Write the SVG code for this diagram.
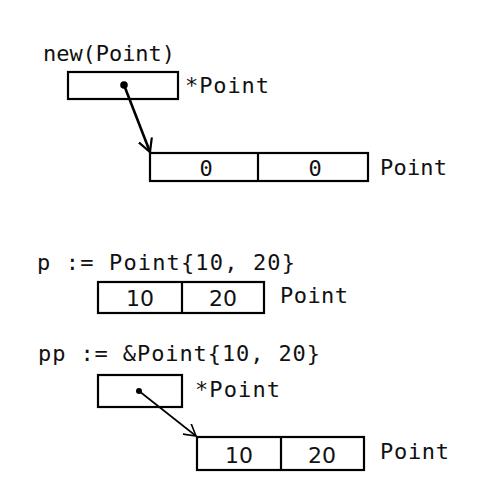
<svg xmlns="http://www.w3.org/2000/svg" width="490" height="497" viewBox="0 0 490 497">
<defs>
<marker id="ah" markerWidth="16" markerHeight="16" refX="13" refY="8" orient="auto" markerUnits="userSpaceOnUse">
<path d="M0,1 L13,8 L0,15" fill="none" stroke="#000" stroke-width="2.2"/>
</marker>
<marker id="ah2" markerWidth="14" markerHeight="14" refX="12" refY="7" orient="auto" markerUnits="userSpaceOnUse">
<path d="M0,0 L12,7 L0,14" fill="none" stroke="#000" stroke-width="1.6"/>
</marker>
</defs>
<style>
.t{font-family:"DejaVu Sans Mono","Liberation Mono",monospace;font-size:22px;fill:#111}
.n{font-family:"DejaVu Sans","Liberation Sans",sans-serif;font-size:22px;fill:#111;text-anchor:middle}
.b{fill:#fff;stroke:#000;stroke-width:2.2}
.c{stroke:#000;stroke-width:2.2;fill:none}
</style>
<rect width="490" height="497" fill="#fff"/>
<g id="new-label"><text class="t" x="43" y="61" textLength="132" lengthAdjust="spacing">new(Point)</text></g>
<g id="ptr1">
<rect class="b" x="68" y="72" width="110" height="27"/>
<text class="t" x="185" y="93" textLength="84" lengthAdjust="spacing">*Point</text>
</g>
<g id="point1">
<rect class="b" x="150" y="153" width="218" height="28"/>
<line class="c" x1="258" y1="153" x2="258" y2="181"/>
<text class="t" x="206" y="176" text-anchor="middle">0</text>
<text class="t" x="315" y="176" text-anchor="middle">0</text>
<text class="t" x="380" y="175" textLength="67" lengthAdjust="spacing">Point</text>
</g>
<g id="p-label"><text class="t" x="37" y="270" textLength="258" lengthAdjust="spacing">p := Point{10, 20}</text></g>
<g id="point2">
<rect class="b" x="98" y="282" width="166" height="31"/>
<line class="c" x1="182" y1="282" x2="182" y2="313"/>
<text class="n" x="140" y="306">10</text>
<text class="n" x="223" y="306">20</text>
<text class="t" x="280" y="303" textLength="68" lengthAdjust="spacing">Point</text>
</g>
<g id="pp-label"><text class="t" x="38" y="361" textLength="282" lengthAdjust="spacing">pp := &amp;Point{10, 20}</text></g>
<g id="ptr2">
<rect class="b" x="98" y="375" width="84" height="32"/>
<text class="t" x="195" y="397" textLength="85" lengthAdjust="spacing">*Point</text>
</g>
<g id="point3">
<rect class="b" x="197" y="437" width="167" height="33"/>
<line class="c" x1="281" y1="437" x2="281" y2="470"/>
<text class="n" x="239" y="463">10</text>
<text class="n" x="322" y="463">20</text>
<text class="t" x="380" y="459" textLength="69" lengthAdjust="spacing">Point</text>
</g>
<g id="connectors">
<circle cx="124" cy="85" r="3.8" fill="#000"/>
<line x1="124" y1="85" x2="150" y2="152" stroke="#000" stroke-width="2.6" marker-end="url(#ah)"/>
<circle cx="139" cy="391" r="3" fill="#000"/>
<line x1="139" y1="391" x2="196" y2="436" stroke="#000" stroke-width="1.6" marker-end="url(#ah2)"/>
</g>
</svg>
